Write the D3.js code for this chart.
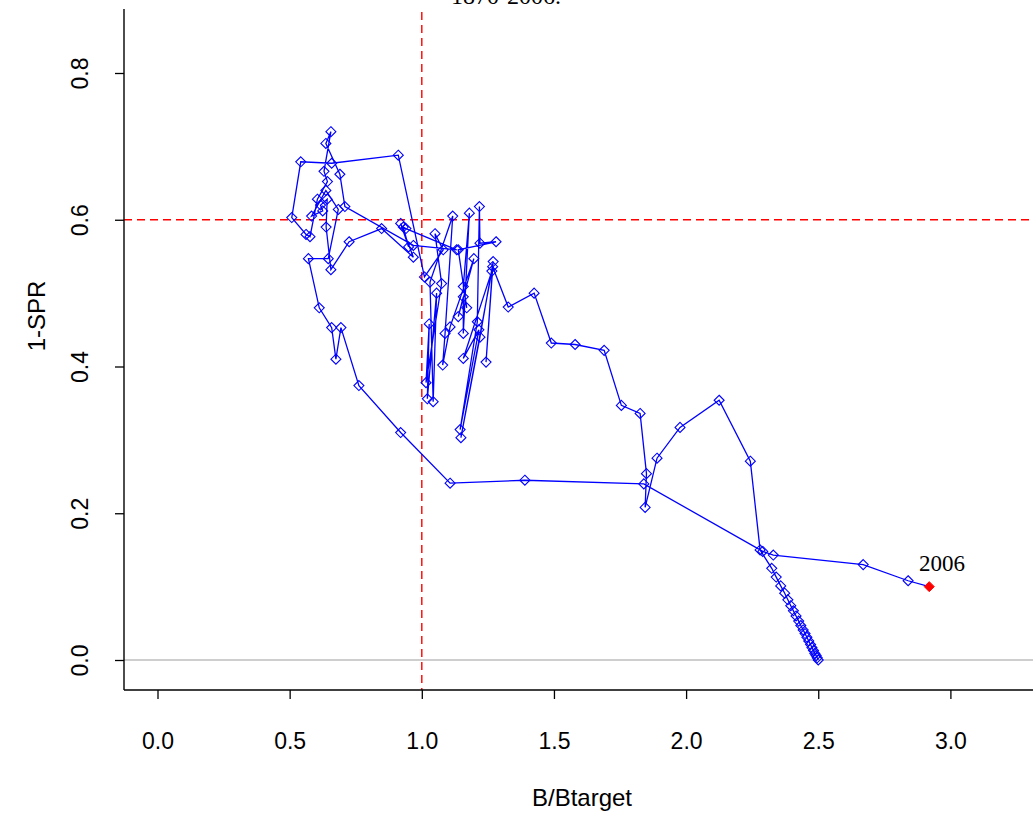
<!DOCTYPE html>
<html><head><meta charset="utf-8">
<script src="https://cdn.jsdelivr.net/npm/d3@7/dist/d3.min.js"></script>
<style>body{margin:0;background:#fff}svg{display:block}</style>
</head><body>
<svg id="chart" width="1033" height="813"></svg>
<script>
// B/Btarget (x) and 1-SPR (y), 1870 -> 2006
const bRatio = [2.500,2.496,2.492,2.487,2.482,2.476,2.471,2.464,2.457,2.450,2.443,2.434,2.426,2.416,2.406,2.396,2.385,2.373,2.358,2.341,2.324,
 2.280,2.243,2.125,1.977,1.890,1.845,1.850,1.826,1.755,1.690,1.580,1.490,1.425,1.327,1.268,
 1.243,1.270,1.220,1.148,1.265,1.157,1.216,1.145,1.210,1.218,1.220,1.281,1.138,1.170,1.157,1.180,1.157,1.157,1.138,1.197,1.107,1.079,1.088,1.117,
 1.031,1.043,1.056,1.021,1.028,1.016,1.075,1.050,1.081,1.010,
 0.911,0.659,0.542,0.508,0.562,0.577,0.605,0.643,0.630,0.656,0.637,0.690,0.709,0.968,1.132,
 0.940,0.930,0.950,0.920,0.968,0.848,0.725,0.656,0.638,0.642,0.617,0.625,0.583,0.637,0.684,0.646,0.571,
 0.612,0.659,0.675,0.694,0.762,0.920,1.107,1.390,1.840,2.290,2.330,2.670,2.840,2.920];
const oneMinusSPR = [0.000,0.003,0.006,0.009,0.013,0.017,0.021,0.026,0.031,0.036,0.041,0.047,0.053,0.060,0.067,0.074,0.082,0.091,0.101,0.113,0.125,
 0.150,0.271,0.354,0.317,0.275,0.208,0.254,0.336,0.347,0.422,0.430,0.432,0.500,0.481,0.536,
 0.406,0.543,0.440,0.303,0.530,0.411,0.450,0.314,0.461,0.618,0.568,0.570,0.559,0.480,0.509,0.609,0.445,0.495,0.468,0.547,0.454,0.402,0.445,0.605,
 0.515,0.352,0.500,0.356,0.458,0.378,0.513,0.581,0.559,0.522,
 0.688,0.677,0.679,0.603,0.580,0.577,0.628,0.652,0.666,0.720,0.704,0.662,0.618,0.565,0.559,
 0.588,0.590,0.563,0.595,0.549,0.588,0.570,0.532,0.590,0.628,0.620,0.612,0.605,0.640,0.614,0.547,0.547,
 0.480,0.453,0.410,0.453,0.374,0.310,0.241,0.245,0.240,0.148,0.143,0.130,0.108,0.100];
const xTicks = [0.0,0.5,1.0,1.5,2.0,2.5,3.0];
const yTicks = [0.0,0.2,0.4,0.6,0.8];
const refB = 1.0, refSPR = 0.6;
const lastLabel = "2006";
const titleText = "1870-2006.";

const svg = d3.select("#chart");
const x = d3.scaleLinear().domain([0,3]).range([157.5,950.4]);
const y = d3.scaleLinear().domain([0,0.8]).range([660,73]);
const L = 124, B = 690, R = 1033, T = 9;
const axisFont = "'Liberation Sans', Arial, sans-serif";
const serif = "'Liberation Serif','Times New Roman',serif";

// title (cut off at top)
svg.append("text").attr("x",451).attr("y",4).attr("font-family",serif).attr("font-size",24).text(titleText);

// zero line
svg.append("line").attr("x1",L).attr("x2",R).attr("y1",y(0)).attr("y2",y(0)).attr("stroke","#bebebe").attr("stroke-width",1.3);
// reference lines
svg.append("line").attr("x1",x(refB)).attr("x2",x(refB)).attr("y1",12).attr("y2",B).attr("stroke","#ff0000").attr("stroke-width",1.4).attr("stroke-dasharray","8,5");
svg.append("line").attr("x1",L).attr("x2",R).attr("y1",y(refSPR)).attr("y2",y(refSPR)).attr("stroke","#ff0000").attr("stroke-width",1.4).attr("stroke-dasharray","8,5");

// axes frame
svg.append("line").attr("x1",L).attr("x2",L).attr("y1",T).attr("y2",B).attr("stroke","#000").attr("stroke-width",1.4);
svg.append("line").attr("x1",L).attr("x2",R).attr("y1",B).attr("y2",B).attr("stroke","#000").attr("stroke-width",1.4);

// x axis
const xa = svg.append("g").attr("transform",`translate(0,${B})`)
  .call(d3.axisBottom(x).tickValues(xTicks).tickFormat(d3.format(".1f")).tickSizeOuter(0).tickSizeInner(9).tickPadding(34));
xa.select(".domain").remove();
xa.selectAll("line").attr("stroke","#000").attr("stroke-width",1.3);
xa.selectAll("text").attr("font-family",axisFont).attr("font-size",23).attr("fill","#000");

// y axis
const ya = svg.append("g").attr("transform",`translate(${L},0)`)
  .call(d3.axisLeft(y).tickValues(yTicks).tickFormat(d3.format(".1f")).tickSizeOuter(0).tickSizeInner(9));
ya.select(".domain").remove();
ya.selectAll("line").attr("stroke","#000").attr("stroke-width",1.3);
ya.selectAll("text").remove();
ya.selectAll(".tick").append("text")
  .attr("transform","translate(-36,0) rotate(-90)")
  .attr("text-anchor","middle").attr("font-family",axisFont).attr("font-size",23).attr("fill","#000")
  .text(d=>d3.format(".1f")(d));

// axis titles
svg.append("text").attr("x",582).attr("y",806).attr("text-anchor","middle").attr("font-family",axisFont).attr("font-size",24).text("B/Btarget");
svg.append("text").attr("transform","translate(45,316) rotate(-90)").attr("text-anchor","middle").attr("font-family",axisFont).attr("font-size",24).text("1-SPR");

// trajectory
const pts = bRatio.map((b,i)=>({b, s: oneMinusSPR[i]}));
const line = d3.line().x(d=>x(d.b)).y(d=>y(d.s));
svg.append("path").datum(pts).attr("d",line).attr("fill","none").attr("stroke","#0000ff").attr("stroke-width",1.3);

const diamond = "M0,-5L5,0L0,5L-5,0Z";
svg.append("g").selectAll("path").data(pts.slice(0,-1)).join("path")
  .attr("transform",d=>`translate(${x(d.b)},${y(d.s)})`).attr("d",diamond)
  .attr("fill","none").attr("stroke","#0000ff").attr("stroke-width",1.1);

const last = pts[pts.length-1];
svg.append("path").attr("transform",`translate(${x(last.b)},${y(last.s)})`).attr("d",diamond).attr("fill","#ff0000").attr("stroke","#ff0000");
svg.append("text").attr("x",919).attr("y",571).attr("font-family",serif).attr("font-size",23).text(lastLabel);
</script>
</body></html>
